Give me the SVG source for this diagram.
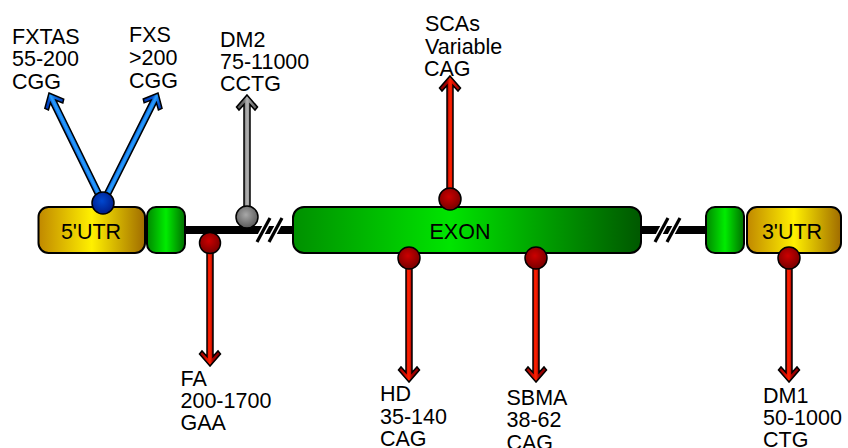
<svg xmlns="http://www.w3.org/2000/svg" width="848" height="448" viewBox="0 0 848 448">
<defs>
<linearGradient id="gGold" x1="0" y1="0" x2="1" y2="0">
<stop offset="0" stop-color="#c08800"/><stop offset="0.5" stop-color="#fff000"/><stop offset="1" stop-color="#a06c00"/>
</linearGradient>
<linearGradient id="gGreen" x1="0" y1="0" x2="1" y2="0">
<stop offset="0" stop-color="#008800"/><stop offset="0.5" stop-color="#00ec00"/><stop offset="1" stop-color="#006e00"/>
</linearGradient>
<linearGradient id="gExon" x1="0" y1="0" x2="1" y2="0">
<stop offset="0" stop-color="#009000"/><stop offset="0.45" stop-color="#00e400"/><stop offset="1" stop-color="#005800"/>
</linearGradient>
<linearGradient id="gRed" x1="0" y1="0" x2="1" y2="0">
<stop offset="0" stop-color="#8a0000"/><stop offset="0.36" stop-color="#a00000"/><stop offset="0.5" stop-color="#ff2200"/><stop offset="0.64" stop-color="#e01000"/><stop offset="1" stop-color="#8a0000"/>
</linearGradient>
<linearGradient id="gBlue" x1="0" y1="0" x2="1" y2="0">
<stop offset="0" stop-color="#0030b0"/><stop offset="0.36" stop-color="#0050d0"/><stop offset="0.5" stop-color="#2aa0ff"/><stop offset="0.64" stop-color="#1070e0"/><stop offset="1" stop-color="#0030b0"/>
</linearGradient>
<linearGradient id="gGray" x1="0" y1="0" x2="1" y2="0">
<stop offset="0" stop-color="#505050"/><stop offset="0.36" stop-color="#707070"/><stop offset="0.5" stop-color="#b4b4b4"/><stop offset="0.64" stop-color="#909090"/><stop offset="1" stop-color="#505050"/>
</linearGradient>
<radialGradient id="rRed" cx="0.45" cy="0.4" r="0.6">
<stop offset="0" stop-color="#cc0000"/><stop offset="1" stop-color="#780000"/>
</radialGradient>
<radialGradient id="rBlue" cx="0.45" cy="0.4" r="0.6">
<stop offset="0" stop-color="#0048d0"/><stop offset="1" stop-color="#001c88"/>
</radialGradient>
<radialGradient id="rGray" cx="0.45" cy="0.4" r="0.6">
<stop offset="0" stop-color="#a8a8a8"/><stop offset="1" stop-color="#5a5a5a"/>
</radialGradient>
<style>
.box{stroke:#000;stroke-width:2}
.arrow{stroke:#000;stroke-width:1.5;stroke-linejoin:miter}
.red{fill:url(#gRed)}
.blue{fill:url(#gBlue)}
.gray{fill:url(#gGray)}
.dot{stroke:#000;stroke-width:1.5}
.lbl{font-family:"Liberation Sans",Arial,sans-serif;font-size:21.5px;fill:#000}
.mid{text-anchor:middle}
.slashW{stroke:#fff;stroke-width:6;stroke-linecap:butt}
.slashB{stroke:#000;stroke-width:3.2;stroke-linecap:butt}
</style>
</defs>
<rect width="848" height="448" fill="#fff"/>

<g id="backbone">
<line x1="180" y1="230" x2="298" y2="230" stroke="#000" stroke-width="8"/>
<line x1="636" y1="230" x2="710" y2="230" stroke="#000" stroke-width="8"/>
<line class="slashW" x1="257" y1="242" x2="270" y2="218"/>
<line class="slashB" x1="257" y1="242" x2="270" y2="218"/>
<line class="slashW" x1="269" y1="242" x2="282" y2="218"/>
<line class="slashB" x1="269" y1="242" x2="282" y2="218"/>
<line class="slashW" x1="655" y1="242" x2="668" y2="218"/>
<line class="slashB" x1="655" y1="242" x2="668" y2="218"/>
<line class="slashW" x1="667" y1="242" x2="680" y2="218"/>
<line class="slashB" x1="667" y1="242" x2="680" y2="218"/>
</g>

<g id="utr5">
<rect class="box" x="38.5" y="207" width="106.5" height="46" rx="10" fill="url(#gGold)"/>
<text class="lbl mid" x="91" y="239">5'UTR</text>
</g>
<g id="exon-left">
<rect class="box" x="147" y="207" width="38" height="46" rx="9" fill="url(#gGreen)"/>
</g>
<g id="exon">
<rect class="box" x="293" y="207" width="348" height="46" rx="11" fill="url(#gExon)"/>
<text class="lbl mid" x="460" y="238.5">EXON</text>
</g>
<g id="exon-right">
<rect class="box" x="706" y="207" width="38" height="46" rx="9" fill="url(#gGreen)"/>
</g>
<g id="utr3">
<rect class="box" x="747" y="207" width="94" height="46" rx="10" fill="url(#gGold)"/>
<text class="lbl mid" x="792" y="238.5">3'UTR</text>
</g>

<g id="connectors">
<path class="arrow blue" transform="translate(49,93) rotate(-26.1)" d="M0,0 L10.5,12 L8,15 L3,9.5 L3,122.5 L-3,122.5 L-3,9.5 L-8,15 L-10.5,12 Z"/>
<path class="arrow blue" transform="translate(158,93) rotate(26.6)" d="M0,0 L10.5,12 L8,15 L3,9.5 L3,123 L-3,123 L-3,9.5 L-8,15 L-10.5,12 Z"/>
<path class="arrow gray" transform="translate(247,95)" d="M0,0 L10.5,12 L8,15 L3,9.5 L3,122 L-3,122 L-3,9.5 L-8,15 L-10.5,12 Z"/>
<path class="arrow red" transform="translate(450,76)" d="M0,0 L10.5,12 L8,15 L3,9.5 L3,123 L-3,123 L-3,9.5 L-8,15 L-10.5,12 Z"/>
<path class="arrow red" transform="translate(210,366) rotate(180)" d="M0,0 L10.5,12 L8,15 L3,9.5 L3,123 L-3,123 L-3,9.5 L-8,15 L-10.5,12 Z"/>
<path class="arrow red" transform="translate(409,382) rotate(180)" d="M0,0 L10.5,12 L8,15 L3,9.5 L3,124 L-3,124 L-3,9.5 L-8,15 L-10.5,12 Z"/>
<path class="arrow red" transform="translate(536,382) rotate(180)" d="M0,0 L10.5,12 L8,15 L3,9.5 L3,124 L-3,124 L-3,9.5 L-8,15 L-10.5,12 Z"/>
<path class="arrow red" transform="translate(789,382) rotate(180)" d="M0,0 L10.5,12 L8,15 L3,9.5 L3,124 L-3,124 L-3,9.5 L-8,15 L-10.5,12 Z"/>
</g>

<g id="site-fragile-x">
<circle class="dot" cx="103" cy="203" r="11" fill="url(#rBlue)"/>
</g>
<g id="site-dm2">
<circle class="dot" cx="247" cy="217" r="11" fill="url(#rGray)"/>
</g>
<g id="site-fa">
<circle class="dot" cx="210" cy="243" r="10.5" fill="url(#rRed)"/>
</g>
<g id="site-scas">
<circle class="dot" cx="450" cy="199" r="11" fill="url(#rRed)"/>
</g>
<g id="site-hd">
<circle class="dot" cx="409" cy="258" r="11" fill="url(#rRed)"/>
</g>
<g id="site-sbma">
<circle class="dot" cx="536" cy="258" r="11" fill="url(#rRed)"/>
</g>
<g id="site-dm1">
<circle class="dot" cx="789" cy="258" r="11" fill="url(#rRed)"/>
</g>

<g id="label-fxtas">
<text class="lbl" x="12" y="43.5">FXTAS</text>
<text class="lbl" x="12" y="66">55-200</text>
<text class="lbl" x="12" y="88.5">CGG</text>
</g>
<g id="label-fxs">
<text class="lbl" x="129" y="42">FXS</text>
<text class="lbl" x="129" y="65">&gt;200</text>
<text class="lbl" x="129" y="88">CGG</text>
</g>
<g id="label-dm2">
<text class="lbl" x="220" y="46.5">DM2</text>
<text class="lbl" x="220" y="68.5">75-11000</text>
<text class="lbl" x="220" y="91">CCTG</text>
</g>
<g id="label-scas">
<text class="lbl" x="425" y="31">SCAs</text>
<text class="lbl" x="425" y="53.5">Variable</text>
<text class="lbl" x="424" y="75.5">CAG</text>
</g>
<g id="label-fa">
<text class="lbl" x="180.5" y="386">FA</text>
<text class="lbl" x="180.5" y="408">200-1700</text>
<text class="lbl" x="180.5" y="430">GAA</text>
</g>
<g id="label-hd">
<text class="lbl" x="380" y="401">HD</text>
<text class="lbl" x="380" y="423.5">35-140</text>
<text class="lbl" x="380" y="446">CAG</text>
</g>
<g id="label-sbma">
<text class="lbl" x="506.5" y="405">SBMA</text>
<text class="lbl" x="506.5" y="427">38-62</text>
<text class="lbl" x="506.5" y="449.5">CAG</text>
</g>
<g id="label-dm1">
<text class="lbl" x="763" y="403">DM1</text>
<text class="lbl" x="763" y="425">50-1000</text>
<text class="lbl" x="763" y="447">CTG</text>
</g>
</svg>
